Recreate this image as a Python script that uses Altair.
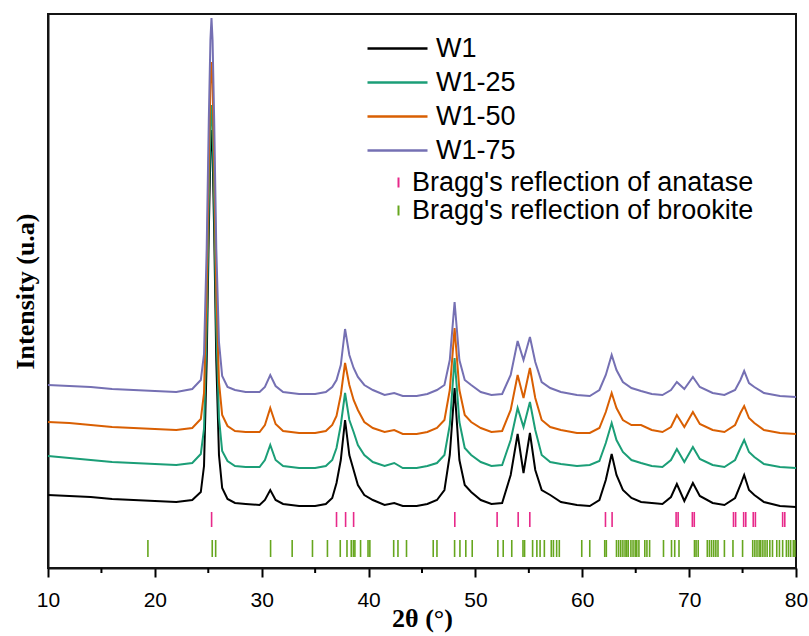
import altair as alt
import pandas as pd

# 2-theta grid (degrees) and intensities (a.u.)
two_theta = [10, 12, 14, 16, 18, 20, 22, 23.5, 24.3, 24.6, 24.85, 25.05, 25.2, 25.3, 25.4,
             25.55, 25.75, 26.0, 26.3, 26.8, 27.5, 28.5, 29.8, 30.3, 30.8, 31.3, 32.0, 33.5,
             35.0, 36.0, 36.6, 37.0, 37.4, 37.8, 38.2, 38.6, 39.0, 39.6, 40.4, 41.5, 42.4,
             43.2, 44.5, 45.5, 46.4, 47.1, 47.6, 48.05, 48.5, 49.0, 49.6, 50.5, 51.5, 52.5,
             53.3, 53.95, 54.5, 55.1, 55.6, 56.2, 57.0, 58.0, 59.5, 60.7, 61.6, 62.2, 62.75,
             63.2, 63.8, 64.6, 65.5, 66.5, 67.5, 68.3, 68.85, 69.55, 70.35, 71.0, 72.2, 73.3,
             74.3, 74.8, 75.15, 75.6, 76.1, 77.0, 78.5, 80.0]

w1 = [73, 72, 71, 69, 68, 67, 66, 68, 76, 102, 207, 337, 416, 438, 416, 337, 207, 113, 80, 69,
      65, 64, 63, 68, 78, 68, 64, 62, 62, 64, 70, 85, 108, 148, 113, 98, 83, 73, 68, 63, 65, 62,
      62, 64, 68, 78, 113, 180, 108, 83, 76, 68, 64, 65, 93, 134, 95, 135, 98, 78, 73, 66, 63,
      62, 68, 88, 114, 93, 78, 70, 66, 65, 64, 71, 84, 67, 85, 72, 65, 63, 70, 83, 93, 78, 73,
      66, 62, 61]

w1_25 = [112, 110, 108, 106, 105, 104, 103, 105, 114, 139, 240, 366, 441, 463, 441, 366, 240,
         150, 117, 107, 102, 101, 101, 108, 123, 108, 102, 100, 100, 102, 108, 120, 143, 175,
         148, 136, 123, 113, 106, 102, 105, 100, 100, 102, 105, 113, 143, 210, 146, 120, 113,
         106, 102, 103, 128, 160, 141, 166, 138, 113, 106, 104, 102, 103, 107, 125, 145, 128,
         116, 108, 105, 102, 101, 108, 119, 106, 121, 109, 103, 101, 108, 120, 128, 116, 111,
         104, 101, 100]

w1_50 = [146, 145, 143, 141, 140, 139, 138, 140, 149, 175, 278, 407, 484, 506, 484, 407, 278,
         186, 153, 142, 137, 136, 136, 143, 160, 144, 137, 135, 135, 137, 143, 152, 173, 205,
         183, 168, 158, 146, 140, 136, 138, 134, 134, 136, 140, 148, 178, 240, 178, 153, 146,
         140, 136, 137, 158, 193, 170, 200, 170, 148, 141, 138, 135, 135, 140, 156, 175, 160,
         148, 143, 143, 138, 136, 141, 153, 141, 156, 144, 138, 136, 143, 155, 162, 150, 145,
         138, 135, 134]

w1_75 = [183, 182, 181, 179, 178, 177, 176, 179, 188, 214, 319, 449, 528, 550, 528, 449, 319,
         226, 192, 181, 178, 176, 176, 181, 193, 182, 176, 174, 174, 176, 181, 188, 203, 239,
         213, 200, 191, 183, 178, 173, 175, 172, 172, 174, 178, 183, 208, 266, 208, 188, 183,
         176, 173, 174, 193, 227, 208, 231, 206, 186, 180, 176, 173, 172, 178, 193, 213, 198,
         186, 180, 177, 174, 173, 178, 186, 179, 191, 181, 175, 173, 178, 188, 197, 185, 181,
         175, 172, 171]

anatase = [25.31, 37.0, 37.85, 38.6, 48.07, 52.03, 54.0, 55.09, 62.17, 62.79, 68.78, 68.97,
           70.3, 70.48, 74.15, 74.35, 75.1, 75.3, 76.0, 76.2, 78.75, 78.95]

brookite = [19.35, 25.37, 25.69, 30.83, 32.85, 34.75, 36.15, 37.35, 37.98, 38.38, 38.58, 38.72,
            39.25, 39.95, 40.12, 42.35, 42.75, 43.55, 46.05, 46.4, 48.05, 48.55, 49.1, 49.7,
            52.1, 52.6, 53.4, 54.45, 54.6, 55.35, 55.75, 56.05, 56.45, 57.1, 57.3, 57.6, 57.85,
            59.95, 60.7, 62.1, 62.25, 63.2, 63.4, 63.6, 63.8, 64.0, 64.15, 64.3, 64.55, 64.75,
            64.95, 65.1, 65.3, 65.85, 66.05, 66.3, 67.6, 68.35, 68.65, 69.05, 70.5, 70.65, 70.85,
            71.7, 71.9, 72.1, 72.3, 72.5, 72.7, 73.3, 74.1, 75.0, 75.95, 76.15, 76.35, 76.55,
            76.7, 76.9, 77.1, 77.3, 77.55, 77.8, 78.2, 78.45, 78.75, 79.1, 79.3, 79.5, 79.75, 79.9]

x_major = [10, 20, 30, 40, 50, 60, 70, 80]
x_minor = [15, 25, 35, 45, 55, 65, 75]
x_range = [10, 80]
y_range = [0, 554]

series_names = ["W1", "W1-25", "W1-50", "W1-75"]
series_colors = ["#000000", "#1b9e77", "#d95f02", "#7570b3"]
bragg_names = ["Bragg's reflection of anatase", "Bragg's reflection of brookite"]
bragg_colors = ["#e7298a", "#66a61e"]
frame_color = "#141414"

rows = []
for name, vals in zip(series_names, [w1, w1_25, w1_50, w1_75]):
    for t, v in zip(two_theta, vals):
        rows.append({"theta": t, "I": v, "series": name})
lines_df = pd.DataFrame(rows)
assert all(len(v) == len(two_theta) for v in [w1, w1_25, w1_50, w1_75])

ana_df = pd.DataFrame({"theta": anatase, "phase": bragg_names[0]})
bro_df = pd.DataFrame({"theta": brookite, "phase": bragg_names[1]})
minor_df = pd.DataFrame({"theta": x_minor})

W, H = 748, 554
x_scale = alt.Scale(domain=x_range, nice=False)
y_scale = alt.Scale(domain=y_range, nice=False, zero=False)

x_axis = alt.Axis(values=x_major, format="d", title="2θ (°)", labelFont="Liberation Sans",
                  labelFontSize=21, labelColor="black", labelPadding=12, labelFlush=False,
                  tickSize=9, tickWidth=2, tickColor="black",
                  domain=True, domainColor=frame_color, domainWidth=2, domainOpacity=1,
                  grid=False, titleFont="Liberation Serif", titleFontWeight="bold",
                  titleFontSize=26, titleColor="black", titleY=58, titleBaseline="alphabetic")
y_axis = alt.Axis(labels=False, ticks=False, domain=True, domainColor=frame_color,
                  domainWidth=2, domainOpacity=1, grid=False, title="Intensity (u.a)",
                  titleFont="Liberation Serif", titleFontWeight="bold", titleFontSize=26,
                  titleColor="black", titlePadding=10)

stroke_scale = alt.Scale(domain=bragg_names, range=bragg_colors)

lines = alt.Chart(lines_df).mark_line(strokeWidth=2).encode(
    x=alt.X("theta:Q", scale=x_scale, axis=x_axis),
    y=alt.Y("I:Q", scale=y_scale, axis=y_axis),
    color=alt.Color("series:N", scale=alt.Scale(domain=series_names, range=series_colors),
                    sort=series_names,
                    legend=alt.Legend(title=None, orient="none", legendX=336, legendY=21,
                                      symbolType="M-3,0L3,0", symbolSize=400,
                                      symbolStrokeWidth=2.5, labelFont="Liberation Sans",
                                      labelFontSize=27, labelColor="black", labelOffset=25,
                                      rowPadding=6, padding=0, labelLimit=500)),
)

bragg_legend = alt.Legend(title=None, orient="none", legendX=337, legendY=155,
                          symbolType="M0,-1L0,1", symbolSize=100, symbolStrokeWidth=2,
                          labelFont="Liberation Sans", labelFontSize=27, labelColor="black",
                          labelOffset=0, rowPadding=0, padding=0, labelLimit=500)

ana = alt.Chart(ana_df).mark_rule(strokeWidth=1.6).encode(
    x=alt.X("theta:Q", scale=x_scale),
    y=alt.value(498), y2=alt.value(513),
    stroke=alt.Stroke("phase:N", scale=stroke_scale, legend=bragg_legend),
)
bro = alt.Chart(bro_df).mark_rule(strokeWidth=1.6).encode(
    x=alt.X("theta:Q", scale=x_scale),
    y=alt.value(526), y2=alt.value(543),
    stroke=alt.Stroke("phase:N", scale=stroke_scale, legend=bragg_legend),
)
minor = alt.Chart(minor_df).mark_rule(strokeWidth=2, color="black").encode(
    x=alt.X("theta:Q", scale=x_scale),
    y=alt.value(H), y2=alt.value(H + 5),
)

chart = alt.layer(lines, ana, bro, minor).properties(
    width=W, height=H,
    autosize=alt.AutoSizeParams(type="none"),
    padding={"left": 48, "top": 14, "right": 13, "bottom": 68},
).configure(background="white", view=alt.ViewConfig(stroke=frame_color, strokeWidth=2))

chart.save("out.html", embed_options={"renderer": "svg", "actions": False})
